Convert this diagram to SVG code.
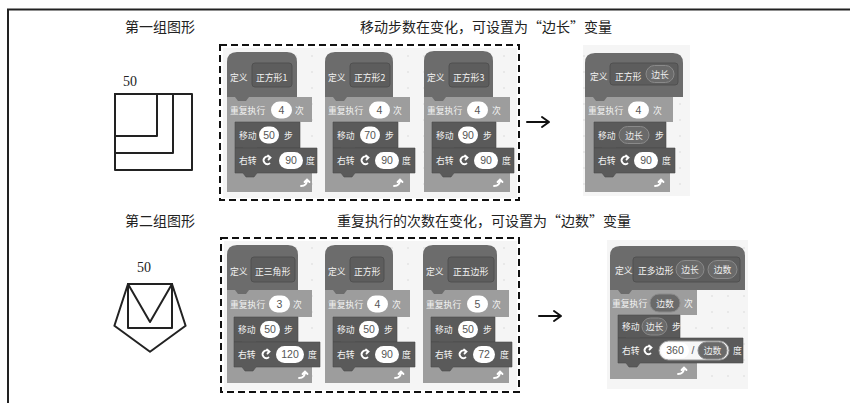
<svg xmlns="http://www.w3.org/2000/svg" width="850" height="403" viewBox="0 0 850 403">
<defs>
<pattern id="dots" width="16" height="16" patternUnits="userSpaceOnUse"><circle cx="8" cy="8" r="0.7" fill="#cfcfcf"/></pattern>
<style>
.title{font-family:"Noto Sans CJK SC","Noto Sans",sans-serif;font-size:14px;fill:#222}
.num{font-family:"Liberation Serif",serif;font-size:14px;fill:#222}
.fig{fill:none;stroke:#222;stroke-width:2;stroke-linejoin:round}
.bg{fill:#f5f5f5}
.hat{fill:#6c6c6c}
.proto{fill:#5d5d5d;stroke:#505050;stroke-width:1}
.rep{fill:#9d9d9d}
.mot{fill:#5a5a5a;stroke:#4c4c4c;stroke-width:0.6}
.inp{fill:#fff}
.var{fill:#6a6a6a;stroke:#8a8a8a;stroke-width:1}
.bt{font-family:"Noto Sans CJK SC",sans-serif;font-size:8.8px;fill:#f2f2f2}
.nt{font-family:"Liberation Sans",sans-serif;font-size:10.5px;fill:#555;text-anchor:middle}
.vt{font-family:"Noto Sans CJK SC",sans-serif;font-size:8.8px;fill:#eee;text-anchor:middle}
.ico{fill:none;stroke:#fff;stroke-width:1.8;stroke-linecap:round}
.dash{fill:none;stroke:#111;stroke-width:2;stroke-dasharray:7 4}
.arr{fill:none;stroke:#111;stroke-width:2;stroke-linecap:round;stroke-linejoin:round}
</style>
</defs>
<rect width="850" height="403" fill="#fff"/>
<path d="M8,403 V9.5 H850" fill="none" stroke="#222" stroke-width="2"/>

<g id="titles">
<text class="title" x="125" y="32">第一组图形</text>
<text class="title" x="486" y="32" text-anchor="middle">移动步数在变化，可设置为“边长”变量</text>
<text class="title" x="125" y="226">第二组图形</text>
<text class="title" x="484" y="226" text-anchor="middle">重复执行的次数在变化，可设置为“边数”变量</text>
</g>

<g id="figure1">
<text class="num" x="123" y="86">50</text>
<rect class="fig" x="115" y="94" width="42" height="42"/>
<rect class="fig" x="115" y="94" width="58" height="59"/>
<rect class="fig" x="115" y="94" width="77" height="76"/>
</g>

<g id="figure2">
<text class="num" x="137" y="272">50</text>
<rect class="fig" x="128" y="284" width="44" height="44"/>
<polygon class="fig" points="128,284 172,284 150,322"/>
<polygon class="fig" points="128,284 172,284 185.6,325.8 150,351.7 114.4,325.8"/>
</g>

<g id="box1">
<rect class="bg" x="223" y="48" width="294" height="150"/>
<rect x="223" y="48" width="294" height="150" fill="url(#dots)"/>
<rect class="dash" x="220" y="45" width="299" height="155"/>
</g>
<g id="box2">
<rect class="bg" x="224" y="241" width="293" height="149"/>
<rect x="224" y="241" width="293" height="149" fill="url(#dots)"/>
<rect class="dash" x="221" y="238" width="298" height="154"/>
</g>

<g id="g1b1" transform="translate(227,52)">
<path class="rep" d="M0,45 H85 V70 H8 V121 H85 V140 H0 Z"/>
<path class="hat" d="M0,45 V10 Q0,0 10,0 H60 Q70,0 70,10 V45 H22 l-3,4 h-8 l-3,-4 Z"/>
<rect class="proto" x="25" y="11" width="40" height="24" rx="3"/>
<text class="bt" x="3" y="29">定义</text>
<text class="bt" x="29" y="29">正方形1</text>
<text class="bt" x="3" y="61.5">重复执行</text>
<rect class="inp" x="44" y="49.5" width="21" height="17" rx="8.5"/><text class="nt" x="54.5" y="61.8">4</text>
<text class="bt" x="68" y="61.5">次</text>
<path class="mot" d="M8,70 H73 V96 H30 l-3,4 h-8 l-3,-4 H8 Z"/>
<text class="bt" x="12" y="87">移动</text>
<rect class="inp" x="32" y="74.5" width="20" height="17" rx="8.5"/><text class="nt" x="42" y="86.8">50</text>
<text class="bt" x="57" y="87">步</text>
<path class="mot" d="M8,96 H90 V121 H30 l-3,4 h-8 l-3,-4 H8 Z"/>
<text class="bt" x="12" y="112">右转</text>
<path class="ico" d="M42.5,111.5 A3.8,3.8 0 1 1 43,105.5 M41,103.5 L43.5,105.5 L41.5,107.5"/>
<rect class="inp" x="52" y="100" width="24" height="17" rx="8.5"/><text class="nt" x="64" y="112.3">90</text>
<text class="bt" x="79" y="112">度</text>
<path class="ico" d="M74,134 Q80,134 80,128 M77.5,130 L80,127.5 L82.5,130"/>
</g>

<g id="g1b2" transform="translate(325,52)">
<path class="rep" d="M0,45 H85 V70 H8 V121 H85 V140 H0 Z"/>
<path class="hat" d="M0,45 V10 Q0,0 10,0 H58 Q68,0 68,10 V45 H22 l-3,4 h-8 l-3,-4 Z"/>
<rect class="proto" x="25" y="11" width="40" height="24" rx="3"/>
<text class="bt" x="3" y="29">定义</text>
<text class="bt" x="29" y="29">正方形2</text>
<text class="bt" x="3" y="61.5">重复执行</text>
<rect class="inp" x="44" y="49.5" width="21" height="17" rx="8.5"/><text class="nt" x="54.5" y="61.8">4</text>
<text class="bt" x="68" y="61.5">次</text>
<path class="mot" d="M8,70 H73 V96 H30 l-3,4 h-8 l-3,-4 H8 Z"/>
<text class="bt" x="12" y="87">移动</text>
<rect class="inp" x="35" y="74.5" width="20" height="17" rx="8.5"/><text class="nt" x="45" y="86.8">70</text>
<text class="bt" x="60" y="87">步</text>
<path class="mot" d="M8,96 H90 V121 H30 l-3,4 h-8 l-3,-4 H8 Z"/>
<text class="bt" x="12" y="112">右转</text>
<path class="ico" d="M42.5,111.5 A3.8,3.8 0 1 1 43,105.5 M41,103.5 L43.5,105.5 L41.5,107.5"/>
<rect class="inp" x="50" y="100" width="24" height="17" rx="8.5"/><text class="nt" x="62" y="112.3">90</text>
<text class="bt" x="77" y="112">度</text>
<path class="ico" d="M69,134 Q75,134 75,128 M72.5,130 L75,127.5 L77.5,130"/>
</g>

<g id="g1b3" transform="translate(424,51)">
<path class="rep" d="M0,46 H86 V71 H8 V122 H86 V141 H0 Z"/>
<path class="hat" d="M0,46 V10 Q0,0 10,0 H59 Q69,0 69,10 V46 H22 l-3,4 h-8 l-3,-4 Z"/>
<rect class="proto" x="25" y="12" width="40" height="24" rx="3"/>
<text class="bt" x="3" y="30">定义</text>
<text class="bt" x="29" y="30">正方形3</text>
<text class="bt" x="3" y="62.5">重复执行</text>
<rect class="inp" x="43" y="50.5" width="21" height="17" rx="8.5"/><text class="nt" x="53.5" y="62.8">4</text>
<text class="bt" x="68" y="62.5">次</text>
<path class="mot" d="M8,71 H72 V97 H30 l-3,4 h-8 l-3,-4 H8 Z"/>
<text class="bt" x="12" y="88">移动</text>
<rect class="inp" x="34" y="75.5" width="20" height="17" rx="8.5"/><text class="nt" x="44" y="87.8">90</text>
<text class="bt" x="59" y="88">步</text>
<path class="mot" d="M8,97 H90 V122 H30 l-3,4 h-8 l-3,-4 H8 Z"/>
<text class="bt" x="12" y="113">右转</text>
<path class="ico" d="M42.5,112.5 A3.8,3.8 0 1 1 43,106.5 M41,104.5 L43.5,106.5 L41.5,108.5"/>
<rect class="inp" x="50" y="101" width="24" height="17" rx="8.5"/><text class="nt" x="62" y="113.3">90</text>
<text class="bt" x="78" y="113">度</text>
<path class="ico" d="M70,135 Q76,135 76,129 M73.5,131 L76,128.5 L78.5,131"/>
</g>

<g id="r1">
<rect class="bg" x="583" y="45" width="107" height="151"/>
<rect x="583" y="45" width="107" height="151" fill="url(#dots)"/>
<g transform="translate(585,53)">
<path class="rep" d="M0,44 H88 V69 H9 V120 H85 V139 H0 Z"/>
<path class="hat" d="M0,44 V10 Q0,0 10,0 H88 Q98,0 98,10 V44 H22 l-3,4 h-8 l-3,-4 Z"/>
<rect class="proto" x="25" y="10" width="68" height="22" rx="3"/>
<text class="bt" x="5" y="27">定义</text>
<text class="bt" x="30" y="27">正方形</text>
<rect class="var" x="61" y="12.5" width="28" height="17" rx="8.5"/><text class="vt" x="75" y="24.5">边长</text>
<text class="bt" x="3" y="60.5">重复执行</text>
<rect class="inp" x="43" y="48.5" width="21" height="17" rx="8.5"/><text class="nt" x="53.5" y="60.8">4</text>
<text class="bt" x="68" y="60.5">次</text>
<path class="mot" d="M9,69 H81 V95 H31 l-3,4 h-8 l-3,-4 H9 Z"/>
<text class="bt" x="13" y="86">移动</text>
<rect class="var" x="34" y="73.5" width="30" height="17" rx="8.5"/><text class="vt" x="49" y="85.5">边长</text>
<text class="bt" x="70" y="86">步</text>
<path class="mot" d="M9,95 H90 V120 H31 l-3,4 h-8 l-3,-4 H9 Z"/>
<text class="bt" x="13" y="111">右转</text>
<path class="ico" d="M42.5,110.5 A3.8,3.8 0 1 1 43,104.5 M41,102.5 L43.5,104.5 L41.5,106.5"/>
<rect class="inp" x="49" y="99" width="24" height="17" rx="8.5"/><text class="nt" x="61" y="111.3">90</text>
<text class="bt" x="77" y="111">度</text>
<path class="ico" d="M70,133 Q76,133 76,127 M73.5,129 L76,126.5 L78.5,129"/>
</g>
</g>

<g id="g2b1" transform="translate(227,245)">
<path class="rep" d="M0,45 H85 V72 H7 V122 H85 V138 H0 Z"/>
<path class="hat" d="M0,45 V10 Q0,0 10,0 H61 Q71,0 71,10 V45 H22 l-3,4 h-8 l-3,-4 Z"/>
<rect class="proto" x="24" y="12" width="44" height="25" rx="3"/>
<text class="bt" x="3" y="30">定义</text>
<text class="bt" x="28" y="30">正三角形</text>
<text class="bt" x="3" y="62.5">重复执行</text>
<rect class="inp" x="42" y="50.5" width="21" height="17" rx="8.5"/><text class="nt" x="52.5" y="62.8">3</text>
<text class="bt" x="66" y="62.5">次</text>
<path class="mot" d="M7,72 H71 V97 H29 l-3,4 h-8 l-3,-4 H7 Z"/>
<text class="bt" x="11" y="88">移动</text>
<rect class="inp" x="33" y="76" width="20" height="17" rx="8.5"/><text class="nt" x="43" y="88.3">50</text>
<text class="bt" x="57" y="88">步</text>
<path class="mot" d="M7,97 H93 V122 H29 l-3,4 h-8 l-3,-4 H7 Z"/>
<text class="bt" x="11" y="113">右转</text>
<path class="ico" d="M41.5,112.5 A3.8,3.8 0 1 1 42,106.5 M40,104.5 L42.5,106.5 L40.5,108.5"/>
<rect class="inp" x="49" y="101" width="28" height="17" rx="8.5"/><text class="nt" x="63" y="113.3">120</text>
<text class="bt" x="81" y="113">度</text>
<path class="ico" d="M72,133 Q78,133 78,127 M75.5,129 L78,126.5 L80.5,129"/>
</g>

<g id="g2b2" transform="translate(325,245)">
<path class="rep" d="M0,45 H85 V72 H8 V122 H85 V138 H0 Z"/>
<path class="hat" d="M0,45 V10 Q0,0 10,0 H58 Q68,0 68,10 V45 H22 l-3,4 h-8 l-3,-4 Z"/>
<rect class="proto" x="25" y="12" width="34" height="25" rx="3"/>
<text class="bt" x="3" y="30">定义</text>
<text class="bt" x="29" y="30">正方形</text>
<text class="bt" x="3" y="62.5">重复执行</text>
<rect class="inp" x="42" y="50.5" width="21" height="17" rx="8.5"/><text class="nt" x="52.5" y="62.8">4</text>
<text class="bt" x="67" y="62.5">次</text>
<path class="mot" d="M8,72 H72 V97 H30 l-3,4 h-8 l-3,-4 H8 Z"/>
<text class="bt" x="12" y="88">移动</text>
<rect class="inp" x="34" y="76" width="20" height="17" rx="8.5"/><text class="nt" x="44" y="88.3">50</text>
<text class="bt" x="59" y="88">步</text>
<path class="mot" d="M8,97 H90 V122 H30 l-3,4 h-8 l-3,-4 H8 Z"/>
<text class="bt" x="12" y="113">右转</text>
<path class="ico" d="M42.5,112.5 A3.8,3.8 0 1 1 43,106.5 M41,104.5 L43.5,106.5 L41.5,108.5"/>
<rect class="inp" x="50" y="101" width="24" height="17" rx="8.5"/><text class="nt" x="62" y="113.3">90</text>
<text class="bt" x="77" y="113">度</text>
<path class="ico" d="M70,133 Q76,133 76,127 M73.5,129 L76,126.5 L78.5,129"/>
</g>

<g id="g2b3" transform="translate(423,245)">
<path class="rep" d="M0,45 H86 V72 H8 V122 H86 V138 H0 Z"/>
<path class="hat" d="M0,45 V10 Q0,0 10,0 H64 Q74,0 74,10 V45 H22 l-3,4 h-8 l-3,-4 Z"/>
<rect class="proto" x="25" y="12" width="46" height="25" rx="3"/>
<text class="bt" x="3" y="30">定义</text>
<text class="bt" x="30" y="30">正五边形</text>
<text class="bt" x="3" y="62.5">重复执行</text>
<rect class="inp" x="44" y="50.5" width="21" height="17" rx="8.5"/><text class="nt" x="54.5" y="62.8">5</text>
<text class="bt" x="69" y="62.5">次</text>
<path class="mot" d="M8,72 H72 V97 H30 l-3,4 h-8 l-3,-4 H8 Z"/>
<text class="bt" x="12" y="88">移动</text>
<rect class="inp" x="35" y="76" width="20" height="17" rx="8.5"/><text class="nt" x="45" y="88.3">50</text>
<text class="bt" x="60" y="88">步</text>
<path class="mot" d="M8,97 H89 V122 H30 l-3,4 h-8 l-3,-4 H8 Z"/>
<text class="bt" x="12" y="113">右转</text>
<path class="ico" d="M42.5,112.5 A3.8,3.8 0 1 1 43,106.5 M41,104.5 L43.5,106.5 L41.5,108.5"/>
<rect class="inp" x="50" y="101" width="22" height="17" rx="8.5"/><text class="nt" x="61" y="113.3">72</text>
<text class="bt" x="77" y="113">度</text>
<path class="ico" d="M71,133 Q77,133 77,127 M74.5,129 L77,126.5 L79.5,129"/>
</g>

<g id="r2">
<rect class="bg" x="607" y="240" width="141" height="149"/>
<rect x="607" y="240" width="141" height="149" fill="url(#dots)"/>
<g transform="translate(610,246)">
<path class="rep" d="M0,44 H87 V69 H8 V117 H87 V133 H0 Z"/>
<path class="hat" d="M0,44 V10 Q0,0 10,0 H125 Q135,0 135,10 V44 H22 l-3,4 h-8 l-3,-4 Z"/>
<rect class="proto" x="23" y="11" width="107" height="25" rx="3"/>
<text class="bt" x="5" y="28">定义</text>
<text class="bt" x="28" y="28">正多边形</text>
<rect class="var" x="66" y="14.5" width="28" height="18" rx="9"/><text class="vt" x="80" y="27">边长</text>
<rect class="var" x="98" y="14.5" width="29" height="18" rx="9"/><text class="vt" x="112.5" y="27">边数</text>
<text class="bt" x="2" y="60.5">重复执行</text>
<rect class="var" x="40" y="48" width="30" height="18" rx="9"/><text class="vt" x="55" y="60.5">边数</text>
<text class="bt" x="74" y="60.5">次</text>
<path class="mot" d="M8,69 H70 V92 H30 l-3,4 h-8 l-3,-4 H8 Z"/>
<text class="bt" x="12" y="84">移动</text>
<rect class="var" x="32" y="72" width="25" height="17" rx="8.5"/><text class="vt" x="44.5" y="84">边长</text>
<text class="bt" x="62" y="84">步</text>
<path class="mot" d="M8,92 H133 V117 H30 l-3,4 h-8 l-3,-4 H8 Z"/>
<text class="bt" x="12" y="108">右转</text>
<path class="ico" d="M40.5,107.5 A3.8,3.8 0 1 1 41,101.5 M39,99.5 L41.5,101.5 L39.5,103.5"/>
<rect x="49" y="95" width="70" height="19" rx="9.5" fill="#f7f7f7" stroke="#9a9a9a" stroke-width="1"/>
<rect class="inp" x="51" y="96.5" width="28" height="16" rx="8"/><text class="nt" x="65" y="108.3">360</text>
<text class="nt" x="83" y="108.3">/</text>
<rect class="var" x="88" y="96" width="29" height="17" rx="8.5"/><text class="vt" x="102.5" y="108">边数</text>
<text class="bt" x="123" y="108">度</text>
<path class="ico" d="M68,128 Q74,128 74,122 M71.5,124 L74,121.5 L76.5,124"/>
</g>
</g>

<g id="connectors">
<path class="arr" d="M527,122 H548 M542,117 L549,122 L542,127"/>
<path class="arr" d="M539,316 H560 M554,311 L561,316 L554,321"/>
</g>
</svg>
